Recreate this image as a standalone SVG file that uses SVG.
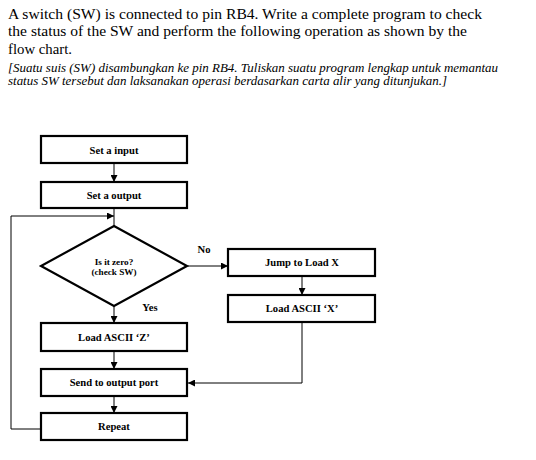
<svg xmlns="http://www.w3.org/2000/svg" width="536" height="460" viewBox="0 0 536 460">
<defs>
<marker id="ah" viewBox="0 0 10 10" refX="10" refY="5" markerWidth="7" markerHeight="7" markerUnits="userSpaceOnUse" orient="auto">
<path d="M0,0 L10,5 L0,10 z" fill="#000"/>
</marker>
</defs>
<style>
.hd{font-family:"Liberation Serif","Times New Roman",serif;font-size:15.6px;fill:#000}
.it{font-family:"Liberation Serif","Times New Roman",serif;font-size:12.2px;font-style:italic;fill:#000}
.box{fill:#fff;stroke:#000;stroke-width:2.2}
.lb{font-family:"Liberation Serif","Times New Roman",serif;font-size:10.6px;font-weight:bold;fill:#000;text-anchor:middle}
.sm{font-family:"Liberation Serif","Times New Roman",serif;font-size:9.2px;font-weight:bold;fill:#000;text-anchor:middle}
.ln{fill:none;stroke:#000;stroke-width:1}
</style>
<rect width="536" height="460" fill="#fff"/>
<g id="heading">
<text class="hd" x="8" y="18.5" textLength="474" lengthAdjust="spacingAndGlyphs">A switch (SW) is connected to pin RB4. Write a complete program to check</text>
<text class="hd" x="8" y="36" textLength="459" lengthAdjust="spacingAndGlyphs">the status of the SW and perform the following operation as shown by the</text>
<text class="hd" x="8" y="53.5" textLength="64" lengthAdjust="spacingAndGlyphs">flow chart.</text>
<text class="it" x="8" y="71.5" textLength="490" lengthAdjust="spacingAndGlyphs">[Suatu suis (SW) disambungkan ke pin RB4. Tuliskan suatu program lengkap untuk memantau</text>
<text class="it" x="8" y="85" textLength="439" lengthAdjust="spacingAndGlyphs">status SW tersebut dan laksanakan operasi berdasarkan carta alir yang ditunjukan.]</text>
</g>
<g id="connectors">
<path class="ln" d="M114,163 V182" marker-end="url(#ah)"/>
<path class="ln" d="M114,208 V226"/>
<path class="ln" d="M41,429 H11 V216 H114" marker-end="url(#ah)"/>
<path class="ln" d="M188,266 H228" marker-end="url(#ah)"/>
<path class="ln" d="M302,276 V295" marker-end="url(#ah)"/>
<path class="ln" d="M302,322 V383 H188" marker-end="url(#ah)"/>
<path class="ln" d="M114,306 V323" marker-end="url(#ah)"/>
<path class="ln" d="M114,351 V369" marker-end="url(#ah)"/>
<path class="ln" d="M114,396 V413" marker-end="url(#ah)"/>
<text class="lb" x="204" y="253">No</text>
<text class="lb" x="150" y="311">Yes</text>
</g>
<g id="set-input">
<rect class="box" x="41" y="136" width="146" height="27"/>
<text class="lb" x="114" y="154">Set a input</text>
</g>
<g id="set-output">
<rect class="box" x="41" y="182" width="146" height="26"/>
<text class="lb" x="114" y="199">Set a output</text>
</g>
<g id="is-zero">
<path class="box" d="M114,226 L187,266 L114,306 L41,266 z"/>
<text class="sm" x="114" y="264.5">Is it zero?</text>
<text class="sm" x="114" y="275">(check SW)</text>
</g>
<g id="jump-load-x">
<rect class="box" x="228" y="249" width="147" height="27"/>
<text class="lb" x="302" y="266">Jump to Load X</text>
</g>
<g id="load-x">
<rect class="box" x="228" y="295" width="147" height="27"/>
<text class="lb" x="302" y="312">Load ASCII ‘X’</text>
</g>
<g id="load-z">
<rect class="box" x="41" y="323" width="146" height="28"/>
<text class="lb" x="114" y="341">Load ASCII ‘Z’</text>
</g>
<g id="send-output">
<rect class="box" x="41" y="369" width="146" height="27"/>
<text class="lb" x="114" y="386">Send to output port</text>
</g>
<g id="repeat">
<rect class="box" x="41" y="413" width="146" height="27"/>
<text class="lb" x="114" y="430">Repeat</text>
</g>
</svg>
